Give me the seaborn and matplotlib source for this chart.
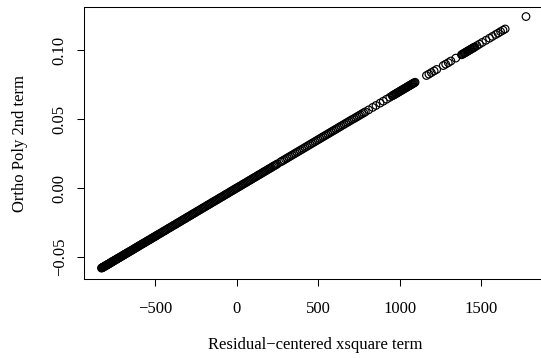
import matplotlib
matplotlib.use("Agg")
import matplotlib.pyplot as plt
import seaborn as sns
import numpy as np
import pandas as pd

# Residual-centered xsquare term (x) and ortho poly 2nd term (y)
x_low = [-830, -824, -818, -811, -805, -799, -792, -786, -779, -772, -765, -758, -750,
         -742, -734, -726, -718, -710, -701, -692, -683, -674, -665, -655, -645, -635,
         -625, -614, -603, -592, -581, -569, -557, -545, -533, -521, -509, -497]
y_low = [-0.0580, -0.0576, -0.0572, -0.0567, -0.0563, -0.0559, -0.0554, -0.0550, -0.0545,
         -0.0540, -0.0535, -0.0530, -0.0524, -0.0519, -0.0513, -0.0508, -0.0502, -0.0497,
         -0.0490, -0.0484, -0.0478, -0.0471, -0.0465, -0.0458, -0.0451, -0.0444, -0.0437,
         -0.0429, -0.0422, -0.0414, -0.0406, -0.0398, -0.0390, -0.0381, -0.0373, -0.0364,
         -0.0356, -0.0348]
x_low2 = [-827, -821, -815, -808, -802, -795, -789, -782, -775, -768, -761, -754, -746,
          -738, -730, -722, -714, -705, -696, -687, -678, -669, -660, -650, -640, -630,
          -620, -609, -598, -587, -575, -563, -551, -539, -527, -515, -503, -491]
y_low2 = [-0.0578, -0.0574, -0.0570, -0.0565, -0.0561, -0.0556, -0.0552, -0.0547, -0.0542,
          -0.0537, -0.0532, -0.0527, -0.0522, -0.0516, -0.0510, -0.0505, -0.0499, -0.0493,
          -0.0487, -0.0480, -0.0474, -0.0468, -0.0462, -0.0455, -0.0448, -0.0441, -0.0434,
          -0.0426, -0.0418, -0.0410, -0.0402, -0.0394, -0.0385, -0.0377, -0.0369, -0.0360,
          -0.0352, -0.0343]
x_mid = [-485, -470, -455, -440, -425, -410, -395, -380, -365, -350, -335, -320, -305,
         -290, -275, -260, -245, -230, -215, -200, -185, -170, -155, -140, -125, -110,
         -95, -80, -65, -50, -35, -20, -5, 10, 25, 40, 55, 70, 85, 100, 115, 130, 145,
         160, 175, 190, 205, 220, 235, 250]
y_mid = [-0.0339, -0.0329, -0.0318, -0.0308, -0.0297, -0.0287, -0.0276, -0.0266, -0.0255,
         -0.0245, -0.0234, -0.0224, -0.0213, -0.0203, -0.0192, -0.0182, -0.0171, -0.0161,
         -0.0150, -0.0140, -0.0129, -0.0119, -0.0108, -0.0098, -0.0087, -0.0077, -0.0066,
         -0.0056, -0.0045, -0.0035, -0.0024, -0.0014, -0.0003, 0.0007, 0.0017, 0.0028,
         0.0038, 0.0049, 0.0059, 0.0070, 0.0080, 0.0091, 0.0101, 0.0112, 0.0122, 0.0133,
         0.0143, 0.0154, 0.0164, 0.0175]
x_mid2 = [-478, -463, -448, -433, -418, -403, -388, -373, -358, -343, -328, -313, -298,
          -283, -268, -253, -238, -223, -208, -193, -178, -163, -148, -133, -118, -103,
          -88, -73, -58, -43, -28, -13, 2, 17, 32, 47, 62, 77, 92, 107, 122, 137, 152,
          167, 182, 197, 212, 227, 242]
y_mid2 = [-0.0334, -0.0324, -0.0313, -0.0303, -0.0292, -0.0282, -0.0271, -0.0261, -0.0250,
          -0.0240, -0.0229, -0.0219, -0.0208, -0.0198, -0.0187, -0.0177, -0.0166, -0.0156,
          -0.0145, -0.0135, -0.0124, -0.0114, -0.0103, -0.0093, -0.0083, -0.0072, -0.0062,
          -0.0051, -0.0041, -0.0030, -0.0020, -0.0009, 0.0001, 0.0012, 0.0022, 0.0033,
          0.0043, 0.0054, 0.0064, 0.0075, 0.0085, 0.0096, 0.0106, 0.0117, 0.0127, 0.0138,
          0.0148, 0.0159, 0.0169]
x_upper = [270, 290, 310, 330, 350, 370, 390, 410, 430, 450, 470, 490, 510, 530, 550,
           570, 590, 610, 630, 650, 670, 690, 710, 730, 750, 770, 790]
y_upper = [0.0189, 0.0203, 0.0217, 0.0231, 0.0245, 0.0259, 0.0273, 0.0287, 0.0301,
           0.0315, 0.0329, 0.0343, 0.0357, 0.0371, 0.0385, 0.0399, 0.0413, 0.0427,
           0.0441, 0.0455, 0.0469, 0.0483, 0.0497, 0.0510, 0.0524, 0.0538, 0.0552]
x_upper2 = [280, 300, 320, 340, 360, 380, 400, 420, 440, 460, 480, 500, 520, 540, 560,
            580, 600, 620, 640, 660, 680, 700, 720, 740, 760, 780]
y_upper2 = [0.0196, 0.0210, 0.0224, 0.0238, 0.0252, 0.0266, 0.0280, 0.0294, 0.0308,
            0.0322, 0.0336, 0.0350, 0.0364, 0.0378, 0.0392, 0.0406, 0.0420, 0.0434,
            0.0448, 0.0462, 0.0476, 0.0490, 0.0503, 0.0517, 0.0531, 0.0545]
x_high = [810, 835, 855, 880, 900, 920, 940, 955, 960, 965, 970, 975, 980, 985, 990, 995,
          1000, 1005, 1010, 1015, 1020, 1025, 1030, 1035, 1040, 1045, 1050, 1055, 1060,
          1065, 1070, 1075, 1080, 1085, 1090, 1095]
y_high = [0.0566, 0.0584, 0.0598, 0.0615, 0.0629, 0.0643, 0.0657, 0.0668, 0.0671,
          0.0675, 0.0678, 0.0682, 0.0685, 0.0689, 0.0692, 0.0696, 0.0699, 0.0703,
          0.0706, 0.0710, 0.0713, 0.0717, 0.0720, 0.0724, 0.0727, 0.0731, 0.0734,
          0.0738, 0.0741, 0.0745, 0.0748, 0.0752, 0.0755, 0.0759, 0.0762, 0.0766]
x_top = [1165, 1180, 1195, 1212, 1228, 1268, 1283, 1299, 1315, 1345, 1380, 1386, 1392,
         1397, 1402, 1407, 1412, 1417, 1422, 1427, 1432, 1437, 1442, 1447, 1452, 1457,
         1462, 1475, 1490, 1508, 1530, 1552, 1570, 1590, 1605, 1620, 1635, 1648, 1776]
y_top = [0.0815, 0.0825, 0.0836, 0.0848, 0.0859, 0.0887, 0.0897, 0.0908, 0.0920,
         0.0941, 0.0965, 0.0969, 0.0973, 0.0977, 0.0980, 0.0984, 0.0987, 0.0991,
         0.0994, 0.0998, 0.1001, 0.1005, 0.1008, 0.1012, 0.1015, 0.1019, 0.1022,
         0.1031, 0.1042, 0.1055, 0.1070, 0.1085, 0.1098, 0.1112, 0.1122, 0.1133,
         0.1143, 0.1152, 0.1242]

x_ticks = [-500, 0, 500, 1000, 1500]
x_ticklabels = ["\u2212500", "0", "500", "1000", "1500"]
y_ticks = [-0.05, 0.00, 0.05, 0.10]
y_ticklabels = ["\u22120.05", "0.00", "0.05", "0.10"]

df = pd.DataFrame({
    "x": x_low + x_low2 + x_mid + x_mid2 + x_upper + x_upper2 + x_high + x_top,
    "y": y_low + y_low2 + y_mid + y_mid2 + y_upper + y_upper2 + y_high + y_top,
})

sns.set_theme(style="white")
plt.rcParams["font.family"] = ["Liberation Serif", "DejaVu Serif"]
plt.rcParams["axes.unicode_minus"] = True

fig = plt.figure(figsize=(5.41, 3.58), dpi=100)
ax = fig.add_axes([84.3 / 541, 79 / 358, (547 - 84.3) / 541, (279 - 7.3) / 358])

sns.scatterplot(data=df, x="x", y="y", ax=ax, marker="o", s=30, linewidth=0.85)
coll = ax.collections[0]
coll.set_facecolor("none")
coll.set_edgecolor("black")

ax.set_xlim(-935.5, 1905)
ax.set_ylim(-0.0659, 0.1309)

ax.set_xticks(x_ticks)
ax.set_xticklabels(x_ticklabels)
ax.set_yticks(y_ticks)
ax.set_yticklabels(y_ticklabels, rotation=90, va="center")

ax.tick_params(axis="both", which="major", direction="out", length=5, width=0.75,
               color="black", labelsize=12, labelcolor="black", bottom=True, left=True)
ax.tick_params(axis="x", pad=11)
ax.tick_params(axis="y", pad=7)

for sp in ax.spines.values():
    sp.set_color("black")
    sp.set_linewidth(0.75)

ax.set_xlabel("Residual\u2212centered xsquare term", fontsize=12, color="black", labelpad=14)
ax.set_ylabel("Ortho Poly 2nd term", fontsize=12, color="black", labelpad=17)

fig.savefig("out.png", dpi=100, facecolor="white")
